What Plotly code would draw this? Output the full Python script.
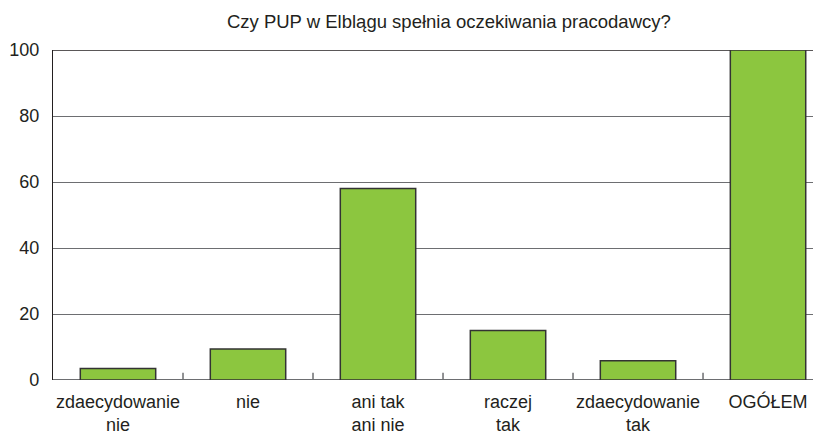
import plotly.graph_objects as go

categories = ["zdaecydowanie<br>nie", "nie", "ani tak<br>ani nie", "raczej<br>tak", "zdaecydowanie<br>tak", "OGÓŁEM"]
values = [3.5, 9.4, 58.0, 15.0, 5.8, 100.0]
y_ticks = [0, 20, 40, 60, 80, 100]
title_text = "Czy PUP w Elblągu spełnia oczekiwania pracodawcy?"

FONT = "Liberation Sans, Arial, sans-serif"

fig = go.Figure(go.Bar(
    x=list(range(len(categories))),
    y=values,
    width=0.58,
    marker=dict(color="#8cc63f", line=dict(color="#333333", width=1.5)),
))

fig.update_layout(
    width=821, height=438,
    margin=dict(l=45, r=0, t=42, b=66),
    paper_bgcolor="white", plot_bgcolor="white",
    showlegend=False,
    font=dict(family=FONT, color="#231f20", size=18),
    title=dict(text=title_text, x=0.537, xanchor="center", y=0.97, yanchor="middle",
               font=dict(family=FONT, size=18.5, color="#231f20"), automargin=False),
    bargap=0.42,
)

fig.update_xaxes(
    range=[-0.5, 5.469],
    tickmode="array", tickvals=list(range(len(categories))), ticktext=categories,
    showgrid=False, zeroline=False,
    showline=False,
    ticks="", automargin=False, ticklabelstandoff=9,
    tickfont=dict(size=18),
)

fig.update_yaxes(
    range=[0, 100],
    tickmode="array", tickvals=y_ticks, ticktext=[str(v) for v in y_ticks],
    showgrid=True, gridcolor="#6d6e71", gridwidth=1,
    zeroline=False,
    showline=True, linecolor="#231f20", linewidth=1.2,
    ticks="", ticklabelstandoff=9, automargin=False,
    tickfont=dict(size=18),
)

# baseline and top border
fig.add_shape(type="line", xref="paper", yref="y", x0=0, x1=1, y0=0, y1=0,
              line=dict(color="#6d6e71", width=2), layer="below")
fig.add_shape(type="line", xref="paper", yref="y", x0=0, x1=1, y0=100, y1=100,
              line=dict(color="#231f20", width=1.5), layer="below")
# category boundary ticks pointing up
for b in [0.5, 1.5, 2.5, 3.5, 4.5]:
    fig.add_shape(type="line", xref="x", yref="y", x0=b, x1=b, y0=0, y1=2.2,
                  line=dict(color="#6d6e71", width=1.5))

fig.write_html("out.html")
